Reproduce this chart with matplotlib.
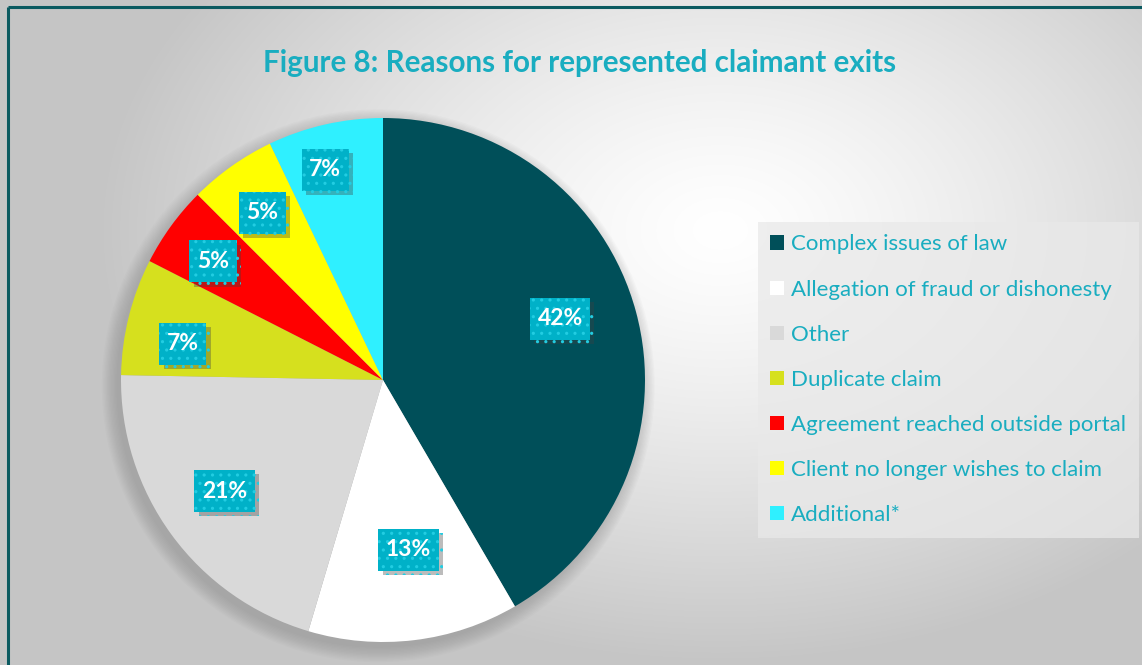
import numpy as np
import matplotlib
matplotlib.use("Agg")
import matplotlib.pyplot as plt
from matplotlib.patches import Circle
from matplotlib.path import Path
import matplotlib.patheffects as pe

categories = ["Complex issues of law", "Allegation of fraud or dishonesty", "Other",
              "Duplicate claim", "Agreement reached outside portal",
              "Client no longer wishes to claim", "Additional*"]
shares = [41.6, 13.0, 20.7, 7.2, 5.0, 5.4, 7.1]
colors = ["#004f59", "#ffffff", "#d9d9d9", "#d6e01e", "#ff0000", "#ffff00", "#2ff0ff"]
title = "Figure 8: Reasons for represented claimant exits"

# label placement: radial distance (fraction of radius) and angular nudge (deg)
label_dist = [0.715, 0.656, 0.739, 0.776, 0.791, 0.787, 0.832]
label_nudge = [3.9, 1.7, -1.1, 3.8, 1.1, 0.6, 2.6]

W, H = 1142, 665
plt.rcParams['font.family'] = ['Lato', 'DejaVu Sans']
plt.rcParams['hatch.linewidth'] = 1.1
fig = plt.figure(figsize=(W / 100, H / 100), dpi=100)

# background gradient
bg = fig.add_axes([0, 0, 1, 1])
yy, xx = np.mgrid[0:H, 0:W]
d = np.sqrt(((xx - 720) / 620.0) ** 2 + ((yy - 230) / 430.0) ** 2)
val = 1.0 - 0.225 * np.clip(d, 0, 1) ** 1.3
img = np.dstack([val, val, val])
bg.imshow(img, extent=[0, W, H, 0], aspect='auto', interpolation='bilinear')
bg.set_xlim(0, W)
bg.set_ylim(H, 0)
bg.axis('off')
# frame lines (left, top)
bg.plot([7.5, 7.5], [6.5, H], color="#0b5a60", lw=2.2, solid_capstyle='butt')
bg.plot([7.5, W], [6.5, 6.5], color="#0b5a60", lw=2.2, solid_capstyle='butt')

bg.text(580, 63, title, ha='center', va='center', fontsize=21.3,
        fontweight='bold', color="#19adc0")

# pie axes
cx, cy, r = 383, 380, 262
ax = fig.add_axes([(cx - r) / W, (H - cy - r) / H, 2 * r / W, 2 * r / H])

# soft shadow (bottom-left)
for i in range(12):
    rr = 1.0 + i * 0.005
    ax.add_patch(Circle((-0.018, -0.022), rr, facecolor='#7a7a7a',
                        alpha=0.035, lw=0, zorder=0, clip_on=False))

wedges, texts, autotexts = ax.pie(
    shares, colors=colors, startangle=90, counterclock=False,
    autopct=lambda p: f"{p:.0f}%", pctdistance=0.70,
    wedgeprops=dict(linewidth=0, zorder=2),
    textprops=dict(color='white', fontsize=16.5, fontweight='bold'))
ax.set_xlim(-1, 1)
ax.set_ylim(-1, 1)
ax.set_aspect('auto')


def label_box(x0, y0, width, height, mutation_size):
    padx = 0.33 * mutation_size
    half_h = 0.915 * mutation_size
    ym = y0 + height / 2
    xa, xb = x0 - padx, x0 + width + padx
    ya, yb = ym - half_h, ym + half_h
    return Path([(xa, ya), (xb, ya), (xb, yb), (xa, yb), (xa, ya)], closed=True)


for w, t, dist, nud in zip(wedges, autotexts, label_dist, label_nudge):
    ang = np.deg2rad((w.theta1 + w.theta2) / 2 + nud)
    t.set_position((dist * np.cos(ang), dist * np.sin(ang)))
    t.set_zorder(5)
    t.set_bbox(dict(boxstyle=label_box, facecolor='#00b1c8',
                    edgecolor='#22cde2', hatch='..', linewidth=0))
    t.get_bbox_patch().set_path_effects([
        pe.SimplePatchShadow(offset=(3, -3), shadow_rgbFace='#404040', alpha=0.35),
        pe.Normal()])

# legend
leg = fig.legend(wedges, categories, loc='upper left',
                 bbox_to_anchor=(758 / W, 1 - 222 / H),
                 frameon=True, fancybox=False, fontsize=16,
                 labelcolor='#19adc0', handlelength=0.62, handleheight=0.62,
                 handletextpad=0.32, labelspacing=1.13, borderpad=0.56,
                 borderaxespad=0)
frame = leg.get_frame()
frame.set_facecolor('#e9e9e9')
frame.set_alpha(0.75)
frame.set_linewidth(0)

fig.savefig("out.png", dpi=100)
